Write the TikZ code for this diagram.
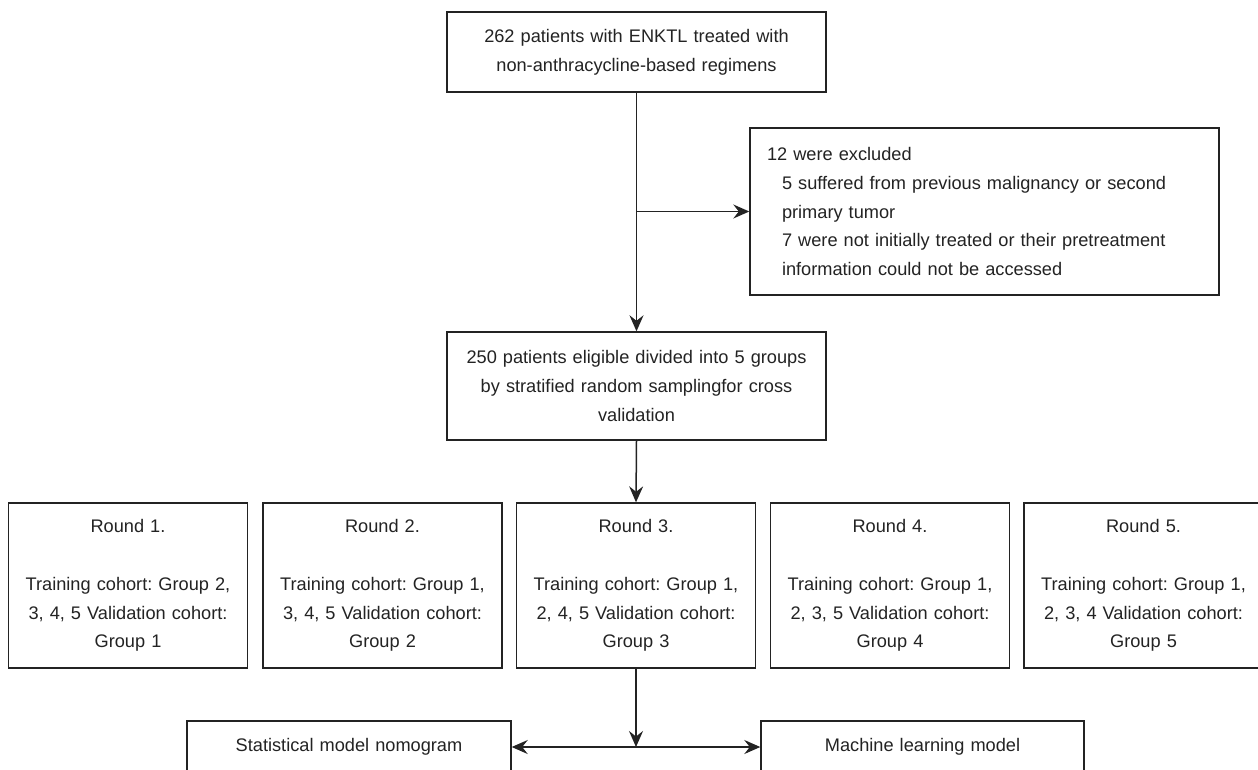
\documentclass[tikz,border=0pt]{standalone}
\usepackage{fontspec}
\setmainfont{Liberation Sans}
\usetikzlibrary{arrows.meta}
\definecolor{ink}{HTML}{232323}
\frenchspacing
\tikzset{
  box/.style={draw=ink, line width=1.4pt, inner xsep=4pt, inner ysep=0pt, align=center, text=ink,
    font=\fontsize{18.2}{28.8}\selectfont\frenchspacing},
  conn/.style={draw=ink, line width=1.5pt},
  tip/.style={-{Stealth[length=16pt,width=14pt,inset=5.5pt]}},
  tips/.style={{Stealth[length=16pt,width=14pt,inset=5.5pt]}-{Stealth[length=16pt,width=14pt,inset=5.5pt]}}
}
\begin{document}
\begin{tikzpicture}[x=1pt,y=-1pt]
\clip (0,0) rectangle (1258,769);
\fill[white] (0,0) rectangle (1258,769);

\node[box, minimum width=379, minimum height=80, text width=371] (top) at (636.5,52)
  {262 patients with ENKTL treated with\\non-anthracycline-based regimens};

\node[box, minimum width=469, minimum height=167, text width=435, inner xsep=17pt, align=left] (excl) at (984.5,211.5)
  {12 were excluded\\
   \hspace*{15pt}5 suffered from previous malignancy or second\\
   \hspace*{15pt}primary tumor\\
   \hspace*{15pt}7 were not initially treated or their pretreatment\\
   \hspace*{15pt}information could not be accessed};

\node[box, minimum width=379, minimum height=108, text width=371] (mid) at (636.5,386)
  {250 patients eligible divided into 5 groups\\by stratified random samplingfor cross\\validation};

\node[box, minimum width=239, minimum height=165, text width=231] (r1) at (128,585.5)
  {Round 1.\\[28.8pt]Training cohort: Group 2,\\3, 4, 5 Validation cohort:\\Group 1};
\node[box, minimum width=239, minimum height=165, text width=231] (r2) at (382.5,585.5)
  {Round 2.\\[28.8pt]Training cohort: Group 1,\\3, 4, 5 Validation cohort:\\Group 2};
\node[box, minimum width=239, minimum height=165, text width=231] (r3) at (636,585.5)
  {Round 3.\\[28.8pt]Training cohort: Group 1,\\2, 4, 5 Validation cohort:\\Group 3};
\node[box, minimum width=239, minimum height=165, text width=231] (r4) at (890,585.5)
  {Round 4.\\[28.8pt]Training cohort: Group 1,\\2, 3, 5 Validation cohort:\\Group 4};
\node[box, minimum width=239, minimum height=165, text width=231] (r5) at (1143.5,585.5)
  {Round 5.\\[28.8pt]Training cohort: Group 1,\\2, 3, 4 Validation cohort:\\Group 5};

\node[box, minimum width=324, minimum height=52, text width=316] (stat) at (349,747)
  {Statistical model nomogram};
\node[box, minimum width=323, minimum height=52, text width=315] (ml) at (922.5,747)
  {Machine learning model};

\coordinate (j1) at (top.south |- excl.west);
\coordinate (j2) at (r3.south |- stat.east);

\draw[conn, tip] (top.south) -- (mid.north);
\draw[conn, tip] (j1) -- (excl.west);
\draw[conn, tip] (mid.south) -- (r3.north);
\draw[conn, tip] (r3.south) -- (j2);
\draw[conn, tips] (stat.east) -- (ml.west);
\end{tikzpicture}
\end{document}
